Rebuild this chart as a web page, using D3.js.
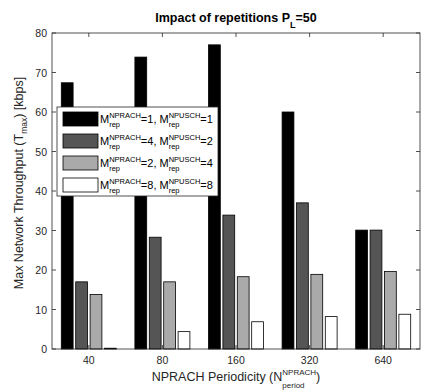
<!DOCTYPE html>
<html><head><meta charset="utf-8">
<script src="https://cdn.jsdelivr.net/npm/d3@7"></script>
<style>body{margin:0;background:#fff}</style>
</head><body>
<svg id="c" width="424" height="390"></svg>
<script>
const categories = ["40","80","160","320","640"];
const seriesNames = [["1","1"],["4","2"],["2","4"],["8","8"]];
const s1 = [67.4, 73.9, 77.0, 60.0, 30.1];
const s2 = [17.0, 28.3, 33.9, 37.0, 30.1];
const s3 = [13.8, 17.0, 18.3, 18.9, 19.6];
const s4 = [0.2, 4.4, 6.9, 8.2, 8.8];
const yTicks = [0,10,20,30,40,50,60,70,80];
const colors = ["#000000","#555555","#aaaaaa","#ffffff"];

const svg = d3.select("#c");
const m = {l:52, r:420, t:33, b:349};
const font = "'Liberation Sans', Arial, sans-serif";
const axCol = "#262626";

const x = d3.scaleBand().domain(categories).range([m.l, m.r]);
const xs = d3.scaleBand().domain(d3.range(4)).range([-27.5, 27.5]).paddingInner(0.18);
const y = d3.scaleLinear().domain([0,80]).range([m.b, m.t]);

const series = [s1,s2,s3,s4];
const g = svg.append("g");
series.forEach((s,i)=>{
  g.selectAll(null).data(s).enter().append("rect")
    .attr("x",(d,j)=>x(categories[j])+x.bandwidth()/2+xs(i))
    .attr("width",xs.bandwidth())
    .attr("y",d=>y(d)).attr("height",d=>y(0)-y(d))
    .attr("fill",colors[i]).attr("stroke","#000").attr("stroke-width",0.8);
});

// axes
const ax = svg.append("g").attr("stroke",axCol).attr("fill","none").attr("stroke-width",0.8);
ax.append("rect").attr("x",m.l).attr("y",m.t).attr("width",m.r-m.l).attr("height",m.b-m.t);
yTicks.forEach(t=>{
  ax.append("line").attr("x1",m.l).attr("x2",m.l+4).attr("y1",y(t)).attr("y2",y(t));
  ax.append("line").attr("x1",m.r).attr("x2",m.r-4).attr("y1",y(t)).attr("y2",y(t));
  svg.append("text").attr("x",m.l-5).attr("y",y(t)+4).attr("text-anchor","end")
    .attr("font-family",font).attr("font-size",10.5).attr("fill",axCol).text(t);
});
categories.forEach(c=>{
  const cx = x(c)+x.bandwidth()/2;
  ax.append("line").attr("x1",cx).attr("x2",cx).attr("y1",m.b).attr("y2",m.b-4);
  ax.append("line").attr("x1",cx).attr("x2",cx).attr("y1",m.t).attr("y2",m.t+4);
  svg.append("text").attr("x",cx).attr("y",m.b+15).attr("text-anchor","middle")
    .attr("font-family",font).attr("font-size",10.5).attr("fill",axCol).text(c);
});

// rich text helper
function rich(parent, x0, y0, parts, opts){
  const grp = parent.append("g");
  let cur = 0, lastStart = 0, lastW = 0, prevSup = false;
  parts.forEach(p=>{
    const fs = p.s==="n" ? opts.fs : opts.sfs;
    let px = cur, py = 0;
    if (p.s==="sup") py = -opts.up;
    if (p.s==="sub") py = opts.down;
    if (p.s==="sub" && prevSup) px = lastStart;
    const t = grp.append("text").attr("x",px).attr("y",py)
      .attr("font-family",font).attr("font-size",fs).attr("fill",opts.fill||"#000")
      .attr("font-weight",opts.bold?"bold":"normal").text(p.t);
    const w = t.node().getComputedTextLength();
    if (p.s==="sub" && prevSup) { cur = Math.max(lastStart+lastW, px+w); }
    else cur = px + w;
    prevSup = p.s==="sup"; lastStart = px; lastW = w;
  });
  let dx = opts.anchor==="middle" ? -cur/2 : 0;
  grp.attr("transform",`translate(${x0+dx},${y0})`);
  return cur;
}

// title
rich(svg, (m.l+m.r)/2, 21.5, [{t:"Impact of repetitions P",s:"n"},{t:"L",s:"sub"},{t:"=50",s:"n"}],
  {fs:12.5,sfs:9,up:5,down:6,bold:true,anchor:"middle"});
// x label
rich(svg, (m.l+m.r)/2, 381, [{t:"NPRACH Periodicity (N",s:"n"},{t:"NPRACH",s:"sup"},{t:"period",s:"sub"},{t:")",s:"n"}],
  {fs:12.5,sfs:8,up:6,down:6.5,fill:axCol,anchor:"middle"});
// y label
const yl = svg.append("g").attr("transform",`translate(23,${183}) rotate(-90)`);
rich(yl, 0, 0, [{t:"Max Network Throughput (T",s:"n"},{t:"max",s:"sub"},{t:") [kbps]",s:"n"}],
  {fs:12.5,sfs:8.5,up:5,down:3.5,fill:axCol,anchor:"middle"});

// legend
const lg = svg.append("g");
lg.append("rect").attr("x",57).attr("y",107).attr("width",161).attr("height",89)
  .attr("fill","#fff").attr("stroke",axCol).attr("stroke-width",0.8);
seriesNames.forEach((n,i)=>{
  const yy = 112 + i*22;
  lg.append("rect").attr("x",63).attr("y",yy).attr("width",35).attr("height",14)
    .attr("fill",colors[i]).attr("stroke","#000").attr("stroke-width",0.8);
  rich(lg, 100, yy+11, [{t:"M",s:"n"},{t:"NPRACH",s:"sup"},{t:"rep",s:"sub"},{t:"="+n[0]+", M",s:"n"},
    {t:"NPUSCH",s:"sup"},{t:"rep",s:"sub"},{t:"="+n[1],s:"n"}],
    {fs:11,sfs:7.5,up:5,down:4});
});
</script>
</body></html>
